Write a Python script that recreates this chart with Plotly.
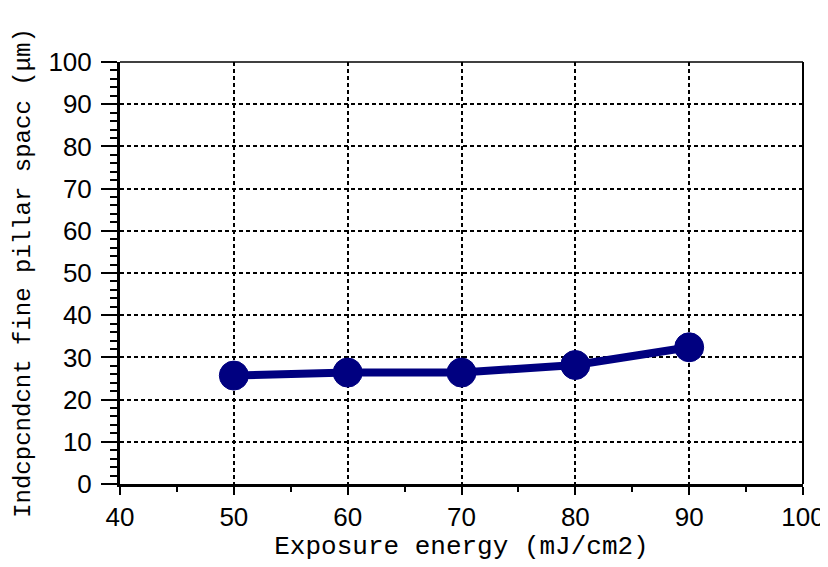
import plotly.graph_objects as go

energy = [50, 60, 70, 80, 90]
spacing = [25.7, 26.4, 26.4, 28.2, 32.4]
x_ticks = [40, 50, 60, 70, 80, 90, 100]
y_ticks = [0, 10, 20, 30, 40, 50, 60, 70, 80, 90, 100]

navy = "#000080"
mono = "Liberation Mono, DejaVu Sans Mono, monospace"
sans = "Liberation Sans, Arial, sans-serif"

fig = go.Figure()
fig.add_trace(go.Scatter(
    x=energy, y=spacing, mode="lines+markers",
    line=dict(color=navy, width=8),
    marker=dict(size=29, color=navy, line=dict(color=navy, width=1)),
    showlegend=False, cliponaxis=False,
))

fig.update_xaxes(
    range=[40, 100], tickvals=x_ticks, ticktext=[str(v) for v in x_ticks],
    showline=True, linecolor="black", linewidth=3,
    ticks="outside", ticklen=8, tickwidth=2, tickcolor="black",
    minor=dict(dtick=5, ticks="outside", ticklen=5, tickwidth=2, tickcolor="black", showgrid=False),
    showgrid=True, gridcolor="black", gridwidth=1.5, griddash="4px,3px",
    tickfont=dict(family=sans, size=26, color="black"),
    ticklabelstandoff=0,
    title=dict(text="Exposure energy (mJ/cm2)", font=dict(family=mono, size=26, color="black"), standoff=4),
    zeroline=False, automargin=False,
)
fig.update_yaxes(
    range=[0, 100], tickvals=y_ticks, ticktext=[str(v) for v in y_ticks],
    showline=True, linecolor="black", linewidth=3,
    ticks="outside", ticklen=16, tickwidth=2, tickcolor="black",
    minor=dict(dtick=2, ticks="outside", ticklen=7, tickwidth=1.5, tickcolor="black", showgrid=False),
    showgrid=True, gridcolor="black", gridwidth=1.5, griddash="4px,3px",
    tickfont=dict(family=sans, size=26, color="black"),
    ticklabelstandoff=4,
    title=dict(text="Indcpcndcnt fine pillar spacc (μm)\u00a0", font=dict(family=mono, size=24, color="black"), standoff=12),
    zeroline=False, automargin=False,
)

fig.add_shape(type="line", xref="paper", yref="paper", x0=0, x1=1, y0=1, y1=1,
              line=dict(color="black", width=1.5))
fig.add_shape(type="line", xref="paper", yref="paper", x0=1, x1=1, y0=0, y1=1,
              line=dict(color="black", width=2))

# the page shows the figure offset by ~8px, so size it to fit the window
fig.update_layout(
    width=820, height=559,
    margin=dict(l=112, r=25, t=54, b=83),
    plot_bgcolor="white", paper_bgcolor="white",
)

fig.write_html("out.html")
